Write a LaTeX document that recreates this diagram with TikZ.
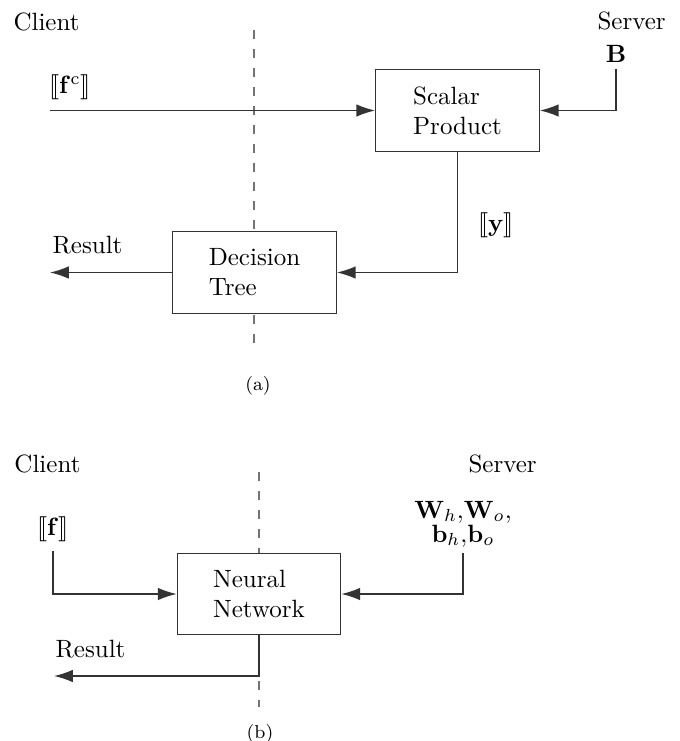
\documentclass[tikz,border=0pt]{standalone}
\usepackage{stmaryrd}
\usetikzlibrary{arrows.meta}

\tikzset{
  conn/.style={draw=black!80, line width=0.55pt, -{Latex[length=7.5pt,width=5pt]}},
  divider/.style={draw=black!55, line width=0.45pt, dash pattern=on 3.4pt off 4.2pt},
  procbox/.style={draw=black!80, line width=0.5pt, fill=white, align=left,
    minimum width=65.4pt, minimum height=32.6pt, inner sep=0pt},
  lbl/.style={inner sep=0pt, text=black},
  inlbl/.style={inner sep=0pt, outer sep=2.6pt},
  capt/.style={inner sep=0pt, font=\fontsize{7.5}{9}\selectfont},
}

\begin{document}
\begin{tikzpicture}[x=0.4pt, y=-0.4pt]
\useasboundingbox (0,0) rectangle (680,741);

% ---------- (a) scalar product + decision tree ----------
\coordinate (divAtop) at (254,30);
\coordinate (divAbot) at (254,343);
\path[divider] (divAtop) -- (divAbot);

\node[lbl, anchor=base west] (clientA) at (13,30) {Client};
\node[lbl, anchor=base west] (serverA) at (597,29) {Server};
\node[inlbl, anchor=base] (B) at (616,62) {$\mathbf{B}$};
\node[lbl] (fc) at (70,87) {$\llbracket\mathbf{f}^{\mathrm{c}}\rrbracket$};
\node[lbl] (ylbl) at (496,225) {$\llbracket\mathbf{y}\rrbracket$};
\node[lbl, anchor=base west] (resA) at (52,253) {Result};

\node[procbox] (sp) at (457.5,110.5) {Scalar\\Product};
\node[procbox] (dt) at (254.5,272.5) {Decision\\Tree};

\coordinate (fcin) at (50,110.5);
\coordinate (resAend) at (50,272.5);

\path[conn] (fcin) -- (sp.west);
\path[conn] (B.south) |- (sp.east);
\path[conn] (sp.south) |- (dt.east);
\path[conn] (dt.west) -- (resAend);

\node[capt] (capA) at (258,386) {(a)};

% ---------- (b) neural network ----------
\coordinate (divBtop) at (259,472);
\coordinate (divBbot) at (259,707);
\path[divider] (divBtop) -- (divBbot);

\node[lbl, anchor=base west] (clientB) at (14,472) {Client};
\node[lbl, anchor=base west] (serverB) at (468,472) {Server};
\node[inlbl, outer sep=4pt, anchor=base] (flbl) at (53,535) {$\llbracket\mathbf{f}\rrbracket$};
\node[inlbl, outer sep=2.6pt, align=center, anchor=base] (wlbl) at (463,542)
  {$\mathbf{W}_h{,}\mathbf{W}_o{,}$\\[-2.4pt]$\mathbf{b}_h{,}\mathbf{b}_o$};
\node[lbl, anchor=base west] (resB) at (55,657) {Result};

\node[procbox] (nn) at (259,594) {Neural\\Network};

\coordinate (resBend) at (54,676);

\path[conn] (flbl.south) |- (nn.west);
\path[conn] (wlbl.south) |- (nn.east);
\path[conn] (nn.south) |- (resBend);

\node[capt] (capB) at (260,734) {(b)};
\end{tikzpicture}
\end{document}
